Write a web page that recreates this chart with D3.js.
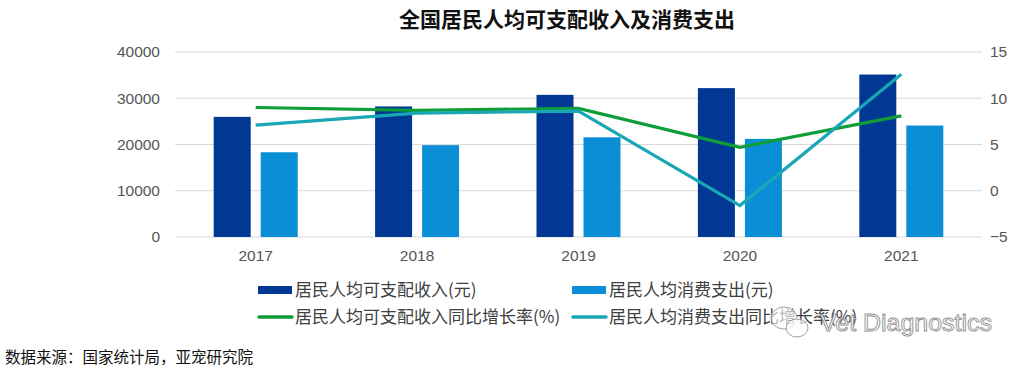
<!DOCTYPE html>
<html lang="zh">
<head>
<meta charset="UTF-8" />
<title>全国居民人均可支配收入及消费支出</title>
<script src="https://d3js.org/d3.v7.min.js"></script>
<style>
    body { margin: 0; background: #fff; }
    svg { display: block; }
    .tick text { font-family: "Liberation Sans", Arial, sans-serif; font-size: 15.5px; fill: #555; }
</style>
</head>
<body>
<svg id="chart" width="1027" height="371"></svg>
<script>
const years = ["2017", "2018", "2019", "2020", "2021"];
const income = [25974, 28228, 30733, 32189, 35128];
const consumption = [18322, 19853, 21559, 21210, 24100];
const incomeGrowth = [9.0, 8.7, 8.9, 4.7, 8.1];
const consumptionGrowth = [7.1, 8.4, 8.6, -1.6, 12.6];
const leftTicks = [0, 10000, 20000, 30000, 40000];
const rightTicks = [-5, 0, 5, 10, 15];

const cjk = "'Noto Sans CJK SC', sans-serif";
const svg = d3.select("#chart");

const x0 = 175, x1 = 982, yTop = 52, yBot = 237;

const x = d3.scaleBand().domain(years).range([x0, x1]);
const xs = d3.scaleBand().domain(["a", "b"]).range([0, 84]).paddingInner(0.213);
const yL = d3.scaleLinear().domain([0, 40000]).range([yBot, yTop]);
const yR = d3.scaleLinear().domain([-5, 15]).range([yBot, yTop]);

// title
svg.append("text")
    .attr("x", 567).attr("y", 27)
    .attr("text-anchor", "middle")
    .attr("font-family", cjk).attr("font-weight", "bold")
    .attr("font-size", 21).attr("fill", "#111")
    .text("全国居民人均可支配收入及消费支出");

// grid
svg.append("g").selectAll("line")
    .data(leftTicks).join("line")
    .attr("x1", x0).attr("x2", x1)
    .attr("y1", d => yL(d)).attr("y2", d => yL(d))
    .attr("stroke", "#d9d9d9").attr("stroke-width", 1.2);

// axes
svg.append("g")
    .attr("transform", `translate(${x0 - 12},0)`)
    .call(d3.axisLeft(yL).tickValues(leftTicks).tickSize(0).tickPadding(3).tickFormat(d3.format("d")))
    .call(g => g.select(".domain").remove());

svg.append("g")
    .attr("transform", `translate(${x1 + 6},0)`)
    .call(d3.axisRight(yR).tickValues(rightTicks).tickSize(0).tickPadding(2)
        .tickFormat(d => d < 0 ? "\u2212" + Math.abs(d) : d))
    .call(g => g.select(".domain").remove());

svg.append("g")
    .attr("transform", `translate(0,${yBot + 7})`)
    .call(d3.axisBottom(x).tickSize(0).tickPadding(6))
    .call(g => g.select(".domain").remove());

// bars
const groups = svg.append("g").selectAll("g")
    .data(years).join("g")
    .attr("transform", d => `translate(${x(d) + x.bandwidth() / 2 - 42},0)`);

groups.append("rect")
    .attr("x", xs("a")).attr("width", xs.bandwidth())
    .attr("y", (d, i) => yL(income[i]))
    .attr("height", (d, i) => yBot - yL(income[i]))
    .attr("fill", "#003893");

groups.append("rect")
    .attr("x", xs("b")).attr("width", xs.bandwidth())
    .attr("y", (d, i) => yL(consumption[i]))
    .attr("height", (d, i) => yBot - yL(consumption[i]))
    .attr("fill", "#0a8fd6");

// lines
const line = d3.line()
    .x((d, i) => x(years[i]) + x.bandwidth() / 2)
    .y(d => yR(d));

svg.append("path").datum(incomeGrowth)
    .attr("d", line).attr("fill", "none")
    .attr("stroke", "#0f9d3a").attr("stroke-width", 3.2);

svg.append("path").datum(consumptionGrowth)
    .attr("d", line).attr("fill", "none")
    .attr("stroke", "#19a7b6").attr("stroke-width", 3.2);

// legend
const legend = [
    { label: "居民人均可支配收入(元)", color: "#003893", type: "bar", lx: 258, ly: 290 },
    { label: "居民人均消费支出(元)", color: "#0a8fd6", type: "bar", lx: 572, ly: 290 },
    { label: "居民人均可支配收入同比增长率(%)", color: "#0f9d3a", type: "line", lx: 258, ly: 317 },
    { label: "居民人均消费支出同比增长率(%)", color: "#19a7b6", type: "line", lx: 572, ly: 317 }
];

const lg = svg.append("g").selectAll("g")
    .data(legend).join("g")
    .attr("transform", d => `translate(${d.lx},${d.ly})`);

lg.filter(d => d.type === "bar").append("rect")
    .attr("x", 0).attr("y", -4).attr("width", 34).attr("height", 8)
    .attr("fill", d => d.color);

lg.filter(d => d.type === "line").append("line")
    .attr("x1", 1).attr("x2", 34).attr("y1", 0).attr("y2", 0)
    .attr("stroke", d => d.color).attr("stroke-width", 3.5).attr("stroke-linecap", "round");

lg.append("text")
    .attr("x", 37).attr("y", 6)
    .attr("font-family", cjk).attr("font-size", 17).attr("fill", "#404040")
    .text(d => d.label);

// source
svg.append("text")
    .attr("x", 5).attr("y", 363)
    .attr("font-family", cjk).attr("font-size", 15.5).attr("fill", "#111")
    .text("数据来源：国家统计局，亚宠研究院");

// watermark (semi-transparent overlay, as in the reference)
const wm = svg.append("g").attr("opacity", 0.9);
wm.append("ellipse").attr("cx", 784).attr("cy", 318).attr("rx", 13).attr("ry", 11)
    .attr("fill", "rgba(255,255,255,0.7)").attr("stroke", "#999").attr("stroke-width", 1);
wm.append("ellipse").attr("cx", 797).attr("cy", 328).attr("rx", 11).attr("ry", 9)
    .attr("fill", "rgba(255,255,255,0.8)").attr("stroke", "#999").attr("stroke-width", 1);
wm.append("text")
    .attr("x", 820).attr("y", 331)
    .attr("font-family", "'Liberation Sans', Arial, sans-serif").attr("font-size", 24)
    .attr("fill", "#fff").attr("stroke", "#888").attr("stroke-width", 0.9)
    .attr("textLength", 172).attr("lengthAdjust", "spacingAndGlyphs")
    .text("Vet Diagnostics");
</script>
</body>
</html>
